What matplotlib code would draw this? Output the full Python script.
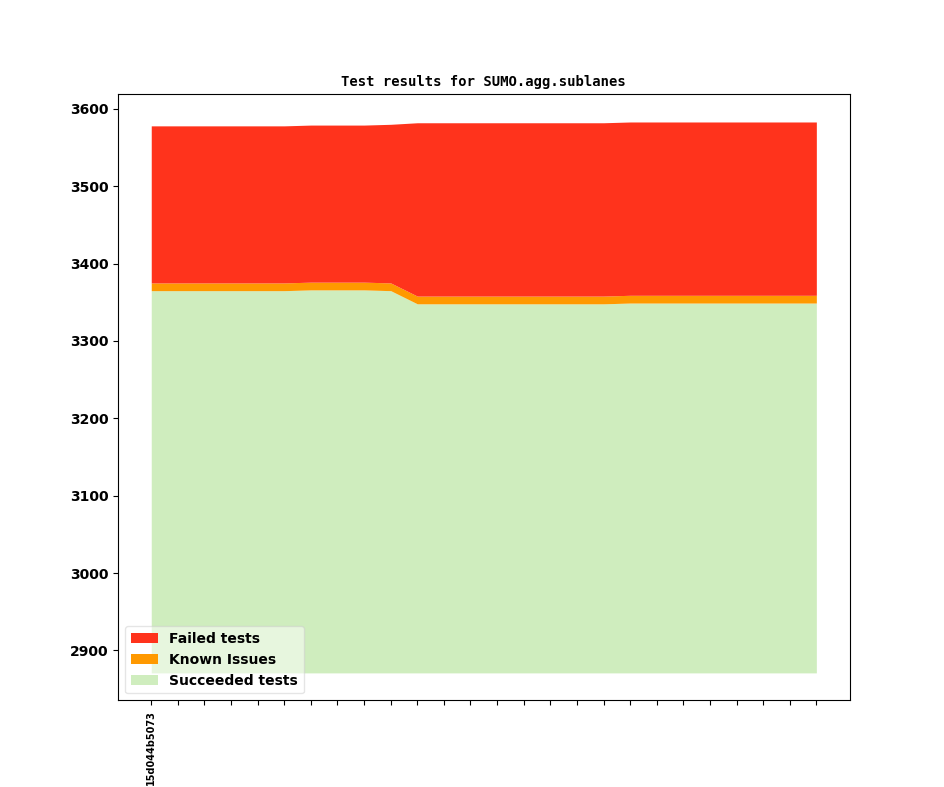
import numpy as np
import matplotlib
matplotlib.use("Agg")
import matplotlib.pyplot as plt

# Test results per commit (only the first commit is labelled)
commits = ["15d044b5073"] + [""] * 25
succeeded = [3365, 3365, 3365, 3365, 3365, 3365, 3366, 3366, 3366, 3365,
             3348, 3348, 3348, 3348, 3348, 3348, 3348, 3348,
             3349, 3349, 3349, 3349, 3349, 3349, 3349, 3349]
known = [10, 10, 10, 10, 10, 10, 10, 10, 10, 10,
         10, 10, 10, 10, 10, 10, 10, 10,
         10, 10, 10, 10, 10, 10, 10, 10]
failed = [203, 203, 203, 203, 203, 203, 203, 203, 203, 205,
          224, 224, 224, 224, 224, 224, 224, 224,
          224, 224, 224, 224, 224, 224, 224, 224]
baseline = 2871

x = np.arange(len(commits))
s = np.array(succeeded)
k = s + np.array(known)
f = k + np.array(failed)

fig, ax = plt.subplots(figsize=(9.44, 7.87), dpi=100)
ax.fill_between(x, baseline, s, color="#cfedbe", lw=0, label="Succeeded tests")
ax.fill_between(x, s, k, color="#ff9900", lw=0, label="Known Issues")
ax.fill_between(x, k, f, color="#ff331c", lw=0, label="Failed tests")

ax.set_title("Test results for SUMO.agg.sublanes", family="DejaVu Sans Mono",
             fontweight="bold", fontsize=10)
ax.set_xticks(x)
ax.set_xticklabels(commits, rotation=90, fontweight="bold", fontsize=7)
for lbl in ax.get_yticklabels():
    lbl.set_fontweight("bold")

handles, labels = ax.get_legend_handles_labels()
ax.legend(handles[::-1], labels[::-1], loc="lower left", framealpha=0.5,
          prop={"weight": "bold", "size": 10})

plt.savefig("out.png")
